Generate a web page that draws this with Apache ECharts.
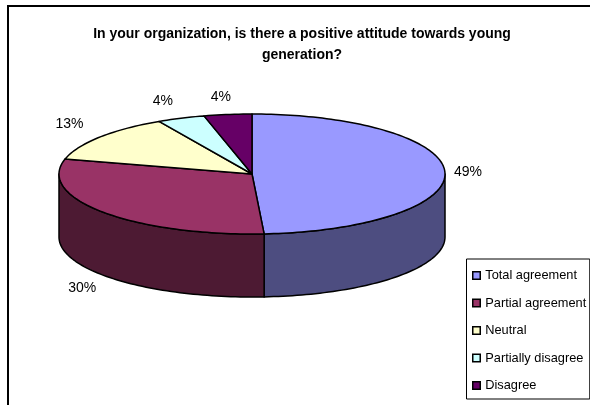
<!DOCTYPE html>
<html><head><meta charset="utf-8">
<style>html,body{margin:0;padding:0;background:#fff}#c{width:590px;height:405px}</style>
<script src="https://cdn.jsdelivr.net/npm/echarts@6/dist/echarts.min.js"></script>
</head><body><div id="c"></div>
<script>
const categories = ['Total agreement','Partial agreement','Neutral','Partially disagree','Disagree'];
const values = [49,30,13,4,4];
const topColors = ['#9999FF','#993366','#FFFFCC','#CCFFFF','#660066'];
const sideColors = ['#4D4D80','#4D1A33','#808066','#668080','#330033'];
const titleLines = 'In your organization, is there a positive attitude towards young\ngeneration?';

const CX=252, CY=174, RX=193, RY=60, DEPTH=63;
const labelOffsets=[[23,0],[-21,76],[-30,-13],[-18,-17],[-7,-17]];
const total = values.reduce((a,b)=>a+b,0);
const startOf = i => values.slice(0,i).reduce((a,b)=>a+b,0)/total*Math.PI*2;
const pt = (a,dy=0)=>[CX+RX*Math.sin(a), CY-RY*Math.cos(a)+dy];
const arc = (a,b,dy=0)=>{const n=Math.max(2,Math.ceil(Math.abs(b-a)*40)),r=[];for(let k=0;k<=n;k++)r.push(pt(a+(b-a)*k/n,dy));return r;};
const line={stroke:'#000',lineWidth:1.5,lineJoin:'round'};

const series = categories.map((name,i)=>({
  name, type:'custom', coordinateSystem:'none', silent:true,
  itemStyle:{color:topColors[i],borderColor:'#000',borderWidth:1},
  data:[values[i]],
  renderItem(){
    const a0=startOf(i), a1=startOf(i+1), children=[];
    const s0=Math.max(a0,Math.PI/2), s1=Math.min(a1,Math.PI*1.5);
    if(s1>s0){
      const top=arc(s0,s1), bot=arc(s1,s0,DEPTH);
      children.push({type:'polygon',shape:{points:top.concat(bot)},style:Object.assign({fill:sideColors[i]},line)});
    }
    children.push({type:'polygon',shape:{points:[[CX,CY]].concat(arc(a0,a1))},style:Object.assign({fill:topColors[i]},line)});
    const m=(a0+a1)/2, p=pt(m);
    children.push({type:'text',style:{x:p[0]+labelOffsets[i][0],y:p[1]+labelOffsets[i][1],text:values[i]+'%',
      fill:'#000',font:'14px "Liberation Sans",Arial,sans-serif',align:'center',verticalAlign:'middle'}});
    return {type:'group',children};
  }
}));

const chart = echarts.init(document.getElementById('c'),null,{renderer:'canvas'});
chart.setOption({
  animation:false,
  backgroundColor:'#fff',
  graphic:[{type:'rect',z:-1,shape:{x:8,y:6,width:590,height:420},style:{fill:'none',stroke:'#000',lineWidth:2}}],
  title:{text:titleLines,left:297,top:19,textAlign:'center',
    textStyle:{fontFamily:'"Liberation Sans",Arial,sans-serif',fontSize:14,fontWeight:'bold',color:'#000',lineHeight:21}},
  legend:{orient:'vertical',left:466.5,top:259,padding:[10,3.5,7,5.5],itemGap:14.5,itemWidth:7.5,itemHeight:7.5,icon:'rect',
    borderColor:'#000',borderWidth:1,backgroundColor:'#fff',data:categories,
    itemStyle:{borderColor:'#000',borderWidth:1.5},
    textStyle:{fontFamily:'"Liberation Sans",Arial,sans-serif',fontSize:12.8,color:'#000',padding:[0,0,0,0]}},
  series
});
</script></body></html>
